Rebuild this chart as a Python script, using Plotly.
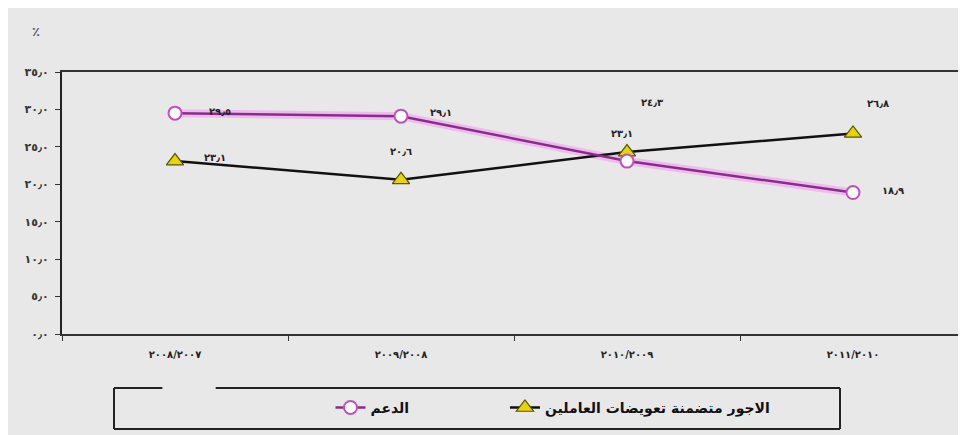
import plotly.graph_objects as go

categories = ["٢٠٠٨/٢٠٠٧", "٢٠٠٩/٢٠٠٨", "٢٠١٠/٢٠٠٩", "٢٠١١/٢٠١٠"]
subsidies = [29.5, 29.1, 23.1, 18.9]          # الدعم
wages = [23.1, 20.6, 24.3, 26.8]              # الاجور متضمنة تعويضات العاملين
y_tickvals = [0, 5, 10, 15, 20, 25, 30, 35]
y_ticktext = ["٠٫٠", "٥٫٠", "١٠٫٠", "١٥٫٠", "٢٠٫٠", "٢٥٫٠", "٣٠٫٠", "٣٥٫٠"]
name_subsidies = "الدعم"
name_wages = "الاجور متضمنة تعويضات العاملين"

AR = str.maketrans("0123456789.", "٠١٢٣٤٥٦٧٨٩٫")


def ar(v):
    return f"{v:.1f}".translate(AR)


BG = "#e8e8e8"
FONT = "DejaVu Sans"

fig = go.Figure()
# pink glow under purple line
fig.add_trace(go.Scatter(x=categories, y=subsidies, mode="lines",
                         line=dict(color="rgba(240,170,240,0.7)", width=8),
                         hoverinfo="skip", showlegend=False))
fig.add_trace(go.Scatter(x=categories, y=wages, mode="lines+markers", name="<b>" + name_wages + "</b>",
                         legend="legend2",
                         line=dict(color="#111111", width=2.5),
                         marker=dict(symbol="triangle-up", size=15, color="#e8d400",
                                     line=dict(color="#555500", width=1.2))))
fig.add_trace(go.Scatter(x=categories, y=subsidies, mode="lines+markers",
                         name="<b>" + name_subsidies + "</b>", legend="legend",
                         line=dict(color="#8a2c8a", width=2.5),
                         marker=dict(symbol="circle", size=13, color="white",
                                     line=dict(color="#c050c0", width=2))))

sub_shift = [(45, 2), (40, 4), (-5, 28), (40, 2)]
wag_shift = [(40, 4), (0, 28), (25, 50), (25, 30)]
for c, v, (dx, dy) in zip(categories, subsidies, sub_shift):
    fig.add_annotation(x=c, y=v, text="<b>" + ar(v) + "</b>", showarrow=False, xshift=dx, yshift=dy,
                       font=dict(family=FONT, size=10, color="#222"))
for c, v, (dx, dy) in zip(categories, wages, wag_shift):
    fig.add_annotation(x=c, y=v, text="<b>" + ar(v) + "</b>", showarrow=False, xshift=dx, yshift=dy,
                       font=dict(family=FONT, size=10, color="#222"))

fig.add_annotation(x=-0.035, y=1.19, xref="paper", yref="paper", text="<b>٪</b>", showarrow=False,
                   font=dict(family=FONT, size=13, color="#555"))

# legend box (with gap in top border)
L, R, T, B = 0.0575, 0.8606, -0.206, -0.3626
for x0, y0, x1, y1 in [(L, B, R, B), (L, T, L, B), (R, T, R, B), (L, T, 0.111, T), (0.170, T, R, T)]:
    fig.add_shape(type="line", xref="paper", yref="paper", x0=x0, y0=y0, x1=x1, y1=y1,
                  line=dict(color="#222", width=2))

legend_style = dict(orientation="h", xanchor="left", y=-0.282, yanchor="middle",
                    font=dict(family=FONT, size=14, color="#111"), bgcolor="rgba(0,0,0,0)")

fig.update_layout(
    width=958, height=427,
    margin=dict(l=54, r=0, t=64, b=101),
    paper_bgcolor=BG, plot_bgcolor=BG,
    font=dict(family=FONT, color="#222"),
    legend=dict(x=0.297, **legend_style),
    legend2=dict(x=0.49, **legend_style),
    xaxis=dict(range=[-0.5, 3.5], showgrid=False, showline=True, linecolor="#333", linewidth=2,
               mirror=True, ticks="outside", tickson="boundaries", ticklen=5, tickcolor="#333",
               tickvals=categories, ticktext=["<b>" + c + "</b>" for c in categories],
               tickfont=dict(family=FONT, size=10, color="#222"), ticklabelstandoff=10,
               zeroline=False),
    yaxis=dict(range=[0, 35], tickvals=y_tickvals, ticktext=["<b>" + t + "</b>" for t in y_ticktext],
               showgrid=False, showline=True, linecolor="#222", linewidth=2, ticks="outside",
               ticklen=5, tickcolor="#333", tickfont=dict(family=FONT, size=11, color="#333"),
               ticklabelstandoff=4, zeroline=False),
)

fig.write_html("out.html")
